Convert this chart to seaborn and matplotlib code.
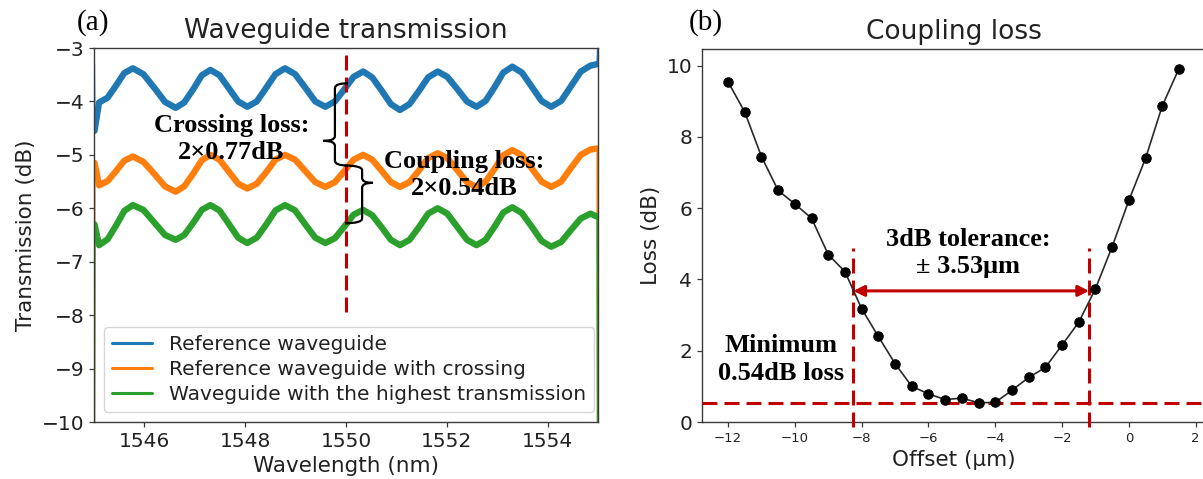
import matplotlib
matplotlib.use("Agg")
import matplotlib.pyplot as plt
from matplotlib.path import Path
from matplotlib.patches import PathPatch
import seaborn as sns
import pandas as pd

# ---------------- data ----------------
wavelength_nm = [1545.00, 1545.01, 1545.10, 1545.27, 1545.44, 1545.60, 1545.77, 1545.98,
                 1546.20, 1546.41, 1546.62, 1546.79, 1546.97, 1547.14, 1547.31, 1547.49,
                 1547.68, 1547.86, 1548.04, 1548.23, 1548.42, 1548.60, 1548.79, 1548.99,
                 1549.19, 1549.39, 1549.59, 1549.78, 1549.97, 1550.15, 1550.34, 1550.52,
                 1550.71, 1550.89, 1551.07, 1551.26, 1551.45, 1551.63, 1551.82, 1552.01,
                 1552.21, 1552.40, 1552.59, 1552.77, 1552.95, 1553.12, 1553.30, 1553.49,
                 1553.69, 1553.88, 1554.07, 1554.27, 1554.46, 1554.66, 1554.85, 1554.99,
                 1555.00]

reference_db = [-3.30, -4.55, -4.02,
                -3.93, -3.70, -3.47, -3.38,
                -3.49, -3.75, -4.01, -4.12,
                -4.02, -3.77, -3.51, -3.41,
                -3.51, -3.76, -4.00, -4.10,
                -4.00, -3.74, -3.49, -3.38,
                -3.49, -3.74, -4.00, -4.10,
                -4.00, -3.77, -3.54, -3.44,
                -3.55, -3.80, -4.05, -4.16,
                -4.05, -3.80, -3.55, -3.44,
                -3.54, -3.77, -4.00, -4.10,
                -3.99, -3.73, -3.46, -3.35,
                -3.46, -3.73, -3.99, -4.10,
                -3.99, -3.72, -3.44, -3.33,
                -3.30, -3.02]

crossing_db = [-10.60, -5.15, -5.57,
               -5.49, -5.30, -5.11, -5.03,
               -5.13, -5.36, -5.59, -5.69,
               -5.59, -5.35, -5.10, -5.00,
               -5.09, -5.32, -5.54, -5.63,
               -5.54, -5.32, -5.09, -5.00,
               -5.09, -5.30, -5.51, -5.60,
               -5.51, -5.30, -5.09, -5.00,
               -5.09, -5.30, -5.51, -5.60,
               -5.51, -5.29, -5.06, -4.97,
               -5.06, -5.29, -5.51, -5.60,
               -5.50, -5.26, -5.01, -4.91,
               -5.01, -5.26, -5.50, -5.60,
               -5.50, -5.25, -5.00, -4.90,
               -4.88, -10.60]

best_db = [-10.60, -6.30, -6.69,
           -6.58, -6.32, -6.05, -5.94,
           -6.03, -6.27, -6.50, -6.59,
           -6.50, -6.27, -6.03, -5.94,
           -6.04, -6.30, -6.55, -6.65,
           -6.55, -6.30, -6.04, -5.94,
           -6.04, -6.30, -6.55, -6.65,
           -6.56, -6.34, -6.12, -6.03,
           -6.13, -6.36, -6.59, -6.69,
           -6.59, -6.35, -6.10, -6.00,
           -6.10, -6.35, -6.59, -6.69,
           -6.59, -6.34, -6.08, -5.98,
           -6.09, -6.35, -6.61, -6.72,
           -6.63, -6.41, -6.19, -6.10,
           -6.16, -10.60]

series_names = ["Reference waveguide",
                "Reference waveguide with crossing",
                "Waveguide with the highest transmission"]

marker_wavelength = 1550.0
crossing_level_at_marker = -5.20     # orange trace at the 1550 nm marker
crossing_loss_each = 0.77
coupling_loss_each = 0.54

offset_um = [-12.0, -11.5, -11.0, -10.5, -10.0, -9.5, -9.0, -8.5, -8.0, -7.5,
             -7.0, -6.5, -6.0, -5.5, -5.0, -4.5, -4.0, -3.5, -3.0, -2.5,
             -2.0, -1.5, -1.0, -0.5, 0.0, 0.5, 1.0, 1.5]
loss_db = [9.55, 8.70, 7.45, 6.50, 6.12, 5.72, 4.70, 4.22, 3.18, 2.40,
           1.64, 1.00, 0.79, 0.63, 0.67, 0.54, 0.55, 0.89, 1.25, 1.53,
           2.16, 2.80, 3.74, 4.92, 6.22, 7.40, 8.87, 9.92]

tolerance_center_um = -4.72
tolerance_half_um = 3.53
tolerance_arrow_db = 3.68
min_loss_db = min(loss_db)

# ---------------- style ----------------
sns.set_style("ticks")
plt.rcParams["font.family"] = ["DejaVu Sans"]
plt.rcParams.update({
    "axes.edgecolor": "#3a3a3a",
    "axes.linewidth": 1.0,
    "xtick.color": "#3a3a3a",
    "ytick.color": "#3a3a3a",
    "xtick.labelcolor": "#222222",
    "ytick.labelcolor": "#222222",
    "xtick.major.size": 3.5,
    "ytick.major.size": 3.5,
    "xtick.major.width": 0.9,
    "ytick.major.width": 0.9,
    "text.color": "#222222",
    "axes.labelcolor": "#222222",
})

RED = "#c00000"
palette = ["#1f77b4", "#ff7f0e", "#2ca02c"]
serif_bold = dict(family="Liberation Serif", weight="bold", size=19, color="black")

W, H = 1203, 479
fig = plt.figure(figsize=(W / 100, H / 100), dpi=100)
ax1 = fig.add_axes([94 / W, 57 / H, 504 / W, 374 / H])
ax2 = fig.add_axes([702 / W, 57 / H, 503 / W, 373 / H])

# ---------------- (a) transmission spectra ----------------
n = len(wavelength_nm)
spectra = pd.DataFrame({
    "wavelength": wavelength_nm * 3,
    "transmission": reference_db + crossing_db + best_db,
    "series": [s for s in series_names for _ in range(n)],
    "idx": list(range(n)) * 3,
})
# thick trace body, thin jumps at the sweep edges
body = spectra[(spectra.idx >= 1) & (spectra.idx <= n - 2)]
left_edge = spectra[spectra.idx <= 1]
right_edge = spectra[spectra.idx >= n - 2]

for part in (left_edge, right_edge):
    sns.lineplot(data=part, x="wavelength", y="transmission", hue="series",
                 hue_order=series_names, palette=palette, estimator=None,
                 sort=False, lw=1.6, legend=False, ax=ax1)
sns.lineplot(data=body, x="wavelength", y="transmission", hue="series",
             hue_order=series_names, palette=palette, estimator=None,
             sort=False, lw=4.6, ax=ax1)

ax1.set_xlim(1545, 1555)
ax1.set_ylim(-10, -3)
ax1.set_xticks([1546, 1548, 1550, 1552, 1554])
ax1.set_yticks(range(-10, -2))
ax1.tick_params(labelsize=14.5)
ax1.set_xlabel("Wavelength (nm)", fontsize=15.5)
ax1.set_ylabel("Transmission (dB)", fontsize=15.5)
ax1.set_title("Waveguide transmission", fontsize=19, pad=7)

ax1.vlines(marker_wavelength, -7.95, -3, colors=RED, lw=2.2,
           linestyles=(0, (4.9, 2.3)), zorder=5)

leg = ax1.legend(loc="lower left", fontsize=14.5, labelspacing=0.3,
                 handlelength=2.0, framealpha=0.8, edgecolor="0.8")
for h in leg.get_lines():
    h.set_linewidth(2.2)


def brace(ax, x_end, x_spine, x_tip, y_top, y_bot, y_tip, r=0.09):
    verts = [(x_end, y_top), (x_spine, y_top), (x_spine, y_top - r),
             (x_spine, y_tip + r),
             (x_spine, y_tip), (x_tip, y_tip),
             (x_spine, y_tip), (x_spine, y_tip - r),
             (x_spine, y_bot + r),
             (x_spine, y_bot), (x_end, y_bot)]
    codes = [Path.MOVETO, Path.CURVE3, Path.CURVE3,
             Path.LINETO,
             Path.CURVE3, Path.CURVE3,
             Path.CURVE3, Path.CURVE3,
             Path.LINETO,
             Path.CURVE3, Path.CURVE3]
    ax.add_patch(PathPatch(Path(verts, codes), fill=False, lw=1.6,
                           edgecolor="black", zorder=6))


cross_top = crossing_level_at_marker + 2 * crossing_loss_each
cross_bot = crossing_level_at_marker
brace(ax1, 1550.04, 1549.78, 1549.55, cross_top, cross_bot,
      cross_top - 0.7 * (cross_top - cross_bot))
coup_top = crossing_level_at_marker
coup_bot = crossing_level_at_marker - 2 * coupling_loss_each
brace(ax1, 1549.98, 1550.32, 1550.53, coup_top, coup_bot,
      coup_top - 0.3 * (coup_top - coup_bot))

ax1.text(1547.73, -4.70, f"Crossing loss:\n2\u00d7{crossing_loss_each:.2f}dB",
         ha="center", va="center", linespacing=1.25, zorder=7, **serif_bold)
ax1.text(1552.35, -5.38, f"Coupling loss:\n2\u00d7{coupling_loss_each:.2f}dB",
         ha="center", va="center", linespacing=1.25, zorder=7, **serif_bold)

# ---------------- (b) coupling loss vs offset ----------------
sns.lineplot(x=offset_um, y=loss_db, ax=ax2, color="#2a2a2a", lw=1.2,
             marker="o", markersize=6.8, markerfacecolor="black",
             markeredgecolor="black", zorder=4)

ax2.set_xlim(-12.78, 2.28)
ax2.set_ylim(0, 10.47)
ax2.set_xticks(range(-12, 3, 2))
ax2.set_yticks(range(0, 11, 2))
ax2.tick_params(axis="x", labelsize=9.5)
ax2.tick_params(axis="y", labelsize=14.5)
ax2.set_xlabel("Offset (\u03bcm)", fontsize=15.5)
ax2.set_ylabel("Loss (dB)", fontsize=15.5)
ax2.set_title("Coupling loss", fontsize=19, pad=7)

tol_left = tolerance_center_um - tolerance_half_um
tol_right = tolerance_center_um + tolerance_half_um
ax2.axhline(min_loss_db, color=RED, lw=2.2, ls=(0, (4.9, 2.3)), zorder=3)
ax2.vlines([tol_left, tol_right], -0.15, 4.88, colors=RED, lw=2.2,
           linestyles=(0, (4.9, 2.3)), zorder=3, clip_on=False)
ax2.annotate("", xy=(tol_right, tolerance_arrow_db), xytext=(tol_left, tolerance_arrow_db),
             arrowprops=dict(arrowstyle="<|-|>", color=RED, lw=2.2,
                             mutation_scale=16, shrinkA=0, shrinkB=0), zorder=5)

ax2.text(-4.82, 4.75, f"3dB tolerance:\n\u00b1 {tolerance_half_um:.2f}\u03bcm",
         ha="center", va="center", linespacing=1.25, zorder=7, **serif_bold)
ax2.text(-10.42, 1.76, f"Minimum\n{min_loss_db:.2f}dB loss",
         ha="center", va="center", linespacing=1.3, zorder=7, **serif_bold)

# ---------------- panel tags ----------------
fig.text(93 / W, 1 - 23 / H, "(a)", family="Liberation Serif", size=21,
         ha="center", va="center", color="black")
fig.text(706 / W, 1 - 23 / H, "(b)", family="Liberation Serif", size=21,
         ha="center", va="center", color="black")

fig.savefig("out.png", dpi=100)
